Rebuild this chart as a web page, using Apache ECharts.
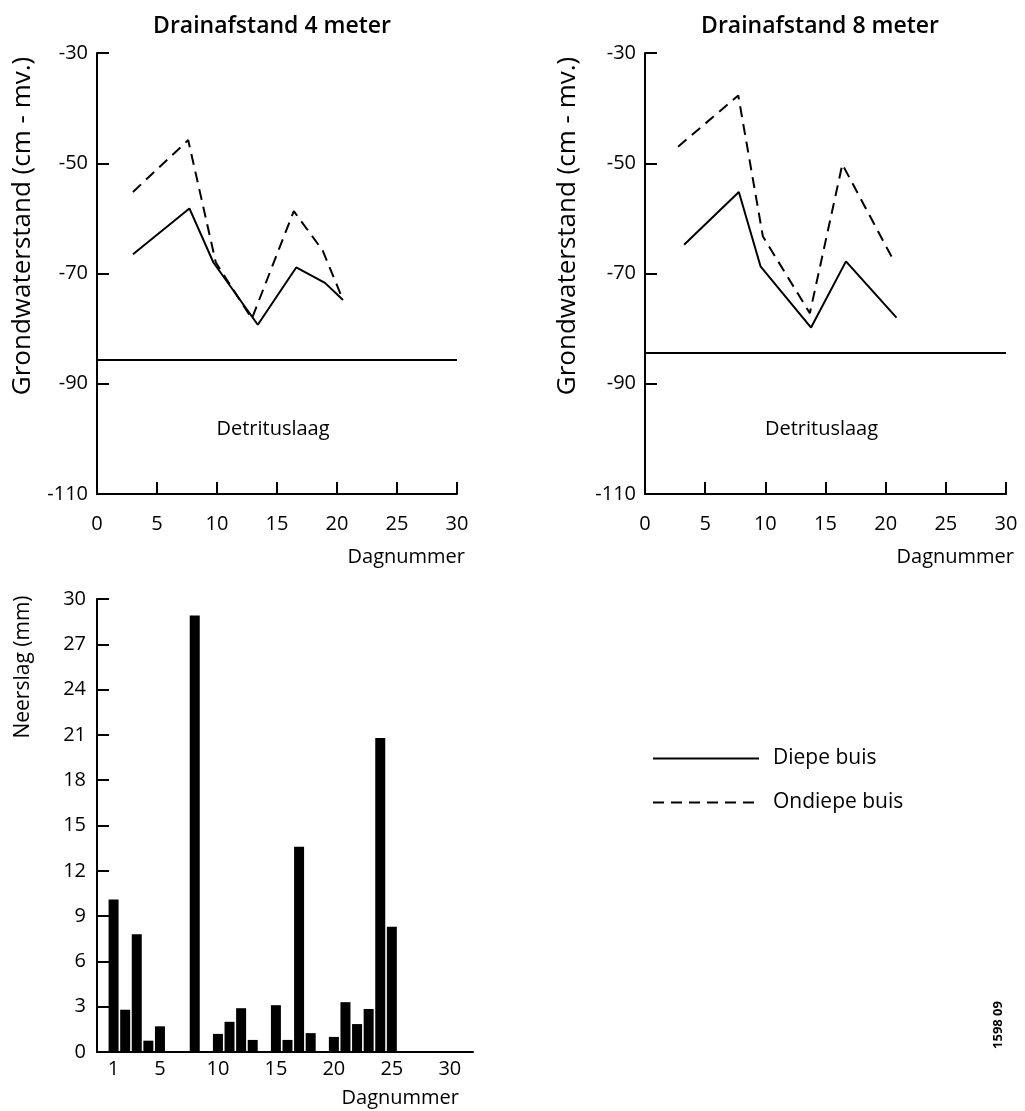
<!DOCTYPE html>
<html>
<head>
<meta charset="utf-8">
<script src="https://cdn.jsdelivr.net/npm/echarts@6/dist/echarts.min.js"></script>
<style>
  html, body { margin: 0; padding: 0; background: #fff; }
  #main { width: 1025px; height: 1111px; }
</style>
</head>
<body>
<div id="main"></div>
<script>
// grondwaterstand, drainafstand 4 meter (cm - mv.)
var diep4Dag = [3, 7.7, 9.7, 13.4, 16.6, 19, 20.5];
var diep4 = [-66.5, -58.2, -68, -79.3, -68.9, -71.7, -74.8];
var ondiep4Dag = [3, 7.6, 9.9, 12.9, 16.4, 18.8, 20.5];
var ondiep4 = [-55.2, -45.8, -68, -78.2, -58.7, -65.8, -74.8];

// drainafstand 8 meter
var diep8Dag = [3.25, 7.8, 9.6, 13.8, 16.7, 20.9];
var diep8 = [-64.8, -55.2, -68.7, -79.8, -67.8, -78];
var ondiep8Dag = [2.75, 7.75, 9.8, 13.7, 16.4, 20.6];
var ondiep8 = [-47, -37.7, -63.3, -77.2, -50.2, -67.4];

// bovenkant detrituslaag
var detritus = [-85.6, -84.4];

// neerslag per dag (mm)
var regenDag = [1, 2, 3, 4, 5, 8, 10, 11, 12, 13, 15, 16, 17, 18, 20, 21, 22, 23, 24, 25];
var regenMm = [10.1, 2.8, 7.8, 0.75, 1.7, 28.9, 1.2, 2.0, 2.9, 0.8, 3.1, 0.8, 13.6, 1.25, 1.0, 3.3, 1.85, 2.85, 20.8, 8.3];

// tick labels
var gwTicks = [-110, -90, -70, -50, -30];
var dagTicks = [5, 10, 15, 20, 25, 30];
var regenDagLabels = [1, 5, 10, 15, 20, 25, 30];

var FONT = 'Open Sans';
var zip = function (xs, ys) {
    return xs.map(function (x, i) { return [x, ys[i]]; });
};

var dom = document.getElementById('main');
var myChart = echarts.init(dom, null, { renderer: 'canvas' });

var labelStyle = { color: '#000', fontSize: 20, fontFamily: FONT };
var axisLine = { show: true, onZero: false, lineStyle: { color: '#000', width: 2 } };
var tickIn = { show: true, inside: true, length: 12, lineStyle: { color: '#000', width: 2 } };

function gwXAxis(idx) {
    return {
        type: 'value', gridIndex: idx, min: 0, max: 30, interval: 5,
        axisLine: axisLine,
        axisTick: Object.assign({}, tickIn, { customValues: dagTicks }),
        axisLabel: Object.assign({}, labelStyle, { margin: 20 }),
        splitLine: { show: false }
    };
}
function gwYAxis(idx) {
    return {
        type: 'value', gridIndex: idx, min: -110, max: -30,
        axisLine: axisLine,
        axisTick: Object.assign({}, tickIn, { customValues: gwTicks }),
        axisLabel: Object.assign({}, labelStyle, { margin: 9, customValues: gwTicks }),
        splitLine: { show: false }
    };
}
function lijn(name, xi, data, dashed, extra) {
    var s = {
        name: name, type: 'line', xAxisIndex: xi, yAxisIndex: xi,
        data: data, symbol: 'none', smooth: false,
        lineStyle: { color: '#000', width: 2, type: dashed ? [11, 7] : 'solid' },
        itemStyle: { color: '#000' }
    };
    return Object.assign(s, extra || {});
}
function detritusMarks(level, offset) {
    return {
        markLine: {
            silent: true, symbol: ['none', 'none'],
            label: { show: false },
            lineStyle: { color: '#000', width: 2, type: 'solid' },
            data: [{ yAxis: level }]
        },
        markArea: {
            silent: true,
            itemStyle: { color: 'rgba(0,0,0,0)' },
            label: { show: true, position: 'inside', offset: offset, color: '#000', fontSize: 20, fontFamily: FONT },
            data: [[{ yAxis: -110, name: 'Detrituslaag' }, { yAxis: level }]]
        }
    };
}

option = {
    animation: false,
    backgroundColor: '#fff',
    title: [
        { text: 'Drainafstand 4 meter', left: 267, top: 10, textAlign: 'center',
          textStyle: { color: '#000', fontSize: 23, fontWeight: 600, fontFamily: FONT } },
        { text: 'Drainafstand 8 meter', left: 815, top: 10, textAlign: 'center',
          textStyle: { color: '#000', fontSize: 23, fontWeight: 600, fontFamily: FONT } }
    ],
    legend: {
        orient: 'vertical', left: 647, top: 743,
        itemWidth: 106, itemHeight: 20, itemGap: 23,
        selectedMode: false,
        data: ['Diepe buis', 'Ondiepe buis'],
        itemStyle: { color: 'rgba(0,0,0,0)', borderWidth: 0, opacity: 0 },
        textStyle: { color: '#000', fontSize: 21, fontFamily: FONT, padding: [0, 0, 0, 9] }
    },
    grid: [
        { left: 97, top: 53, width: 360, height: 441, outerBoundsMode: 'none' },
        { left: 645, top: 53, width: 361, height: 441, outerBoundsMode: 'none' },
        { left: 97, top: 599, width: 376, height: 453, outerBoundsMode: 'none' }
    ],
    xAxis: [
        gwXAxis(0),
        gwXAxis(1),
        {
            type: 'value', gridIndex: 2, min: -0.43, max: 32,
            axisLine: axisLine,
            axisTick: { show: false },
            axisLabel: Object.assign({}, labelStyle, { margin: 7, customValues: regenDagLabels }),
            splitLine: { show: false }
        }
    ],
    yAxis: [
        gwYAxis(0),
        gwYAxis(1),
        {
            type: 'value', gridIndex: 2, min: 0, max: 30, interval: 3,
            axisLine: axisLine,
            axisTick: tickIn,
            axisLabel: Object.assign({}, labelStyle, { margin: 11 }),
            splitLine: { show: false }
        }
    ],
    series: [
        lijn('Diepe buis', 0, zip(diep4Dag, diep4), false, detritusMarks(detritus[0], [-4, 3])),
        lijn('Ondiepe buis', 0, zip(ondiep4Dag, ondiep4), true),
        lijn('Diepe buis', 1, zip(diep8Dag, diep8), false, detritusMarks(detritus[1], [-4, 6])),
        lijn('Ondiepe buis', 1, zip(ondiep8Dag, ondiep8), true),
        {
            name: 'Neerslag', type: 'bar', xAxisIndex: 2, yAxisIndex: 2,
            barWidth: 10,
            itemStyle: { color: '#000' },
            data: zip(regenDag, regenMm)
        }
    ],
    graphic: [
        { type: 'text', x: 23, y: 226, rotation: Math.PI / 2,
          style: { text: 'Grondwaterstand (cm - mv.)', fill: '#000', fontSize: 26, fontFamily: FONT,
                   align: 'center', verticalAlign: 'middle', textAlign: 'center', textVerticalAlign: 'middle' } },
        { type: 'text', x: 568, y: 226, rotation: Math.PI / 2,
          style: { text: 'Grondwaterstand (cm - mv.)', fill: '#000', fontSize: 26, fontFamily: FONT,
                   align: 'center', verticalAlign: 'middle', textAlign: 'center', textVerticalAlign: 'middle' } },
        { type: 'text', x: 23, y: 667, rotation: Math.PI / 2,
          style: { text: 'Neerslag (mm)', fill: '#000', fontSize: 21, fontFamily: FONT,
                   align: 'center', verticalAlign: 'middle', textAlign: 'center', textVerticalAlign: 'middle' } },
        { type: 'text', x: 465, y: 557,
          style: { text: 'Dagnummer', fill: '#000', fontSize: 20, fontFamily: FONT,
                   align: 'right', verticalAlign: 'middle', textAlign: 'right', textVerticalAlign: 'middle' } },
        { type: 'text', x: 1014, y: 557,
          style: { text: 'Dagnummer', fill: '#000', fontSize: 20, fontFamily: FONT,
                   align: 'right', verticalAlign: 'middle', textAlign: 'right', textVerticalAlign: 'middle' } },
        { type: 'text', x: 459, y: 1098,
          style: { text: 'Dagnummer', fill: '#000', fontSize: 20, fontFamily: FONT,
                   align: 'right', verticalAlign: 'middle', textAlign: 'right', textVerticalAlign: 'middle' } },
        { type: 'text', x: 998, y: 1025, rotation: Math.PI / 2,
          style: { text: '1598 09', fill: '#000', fontSize: 13, fontWeight: 'bold', fontFamily: FONT,
                   align: 'center', verticalAlign: 'middle', textAlign: 'center', textVerticalAlign: 'middle' } }
    ]
};

if (option && typeof option === 'object') {
    myChart.setOption(option, true);
}
</script>
</body>
</html>
